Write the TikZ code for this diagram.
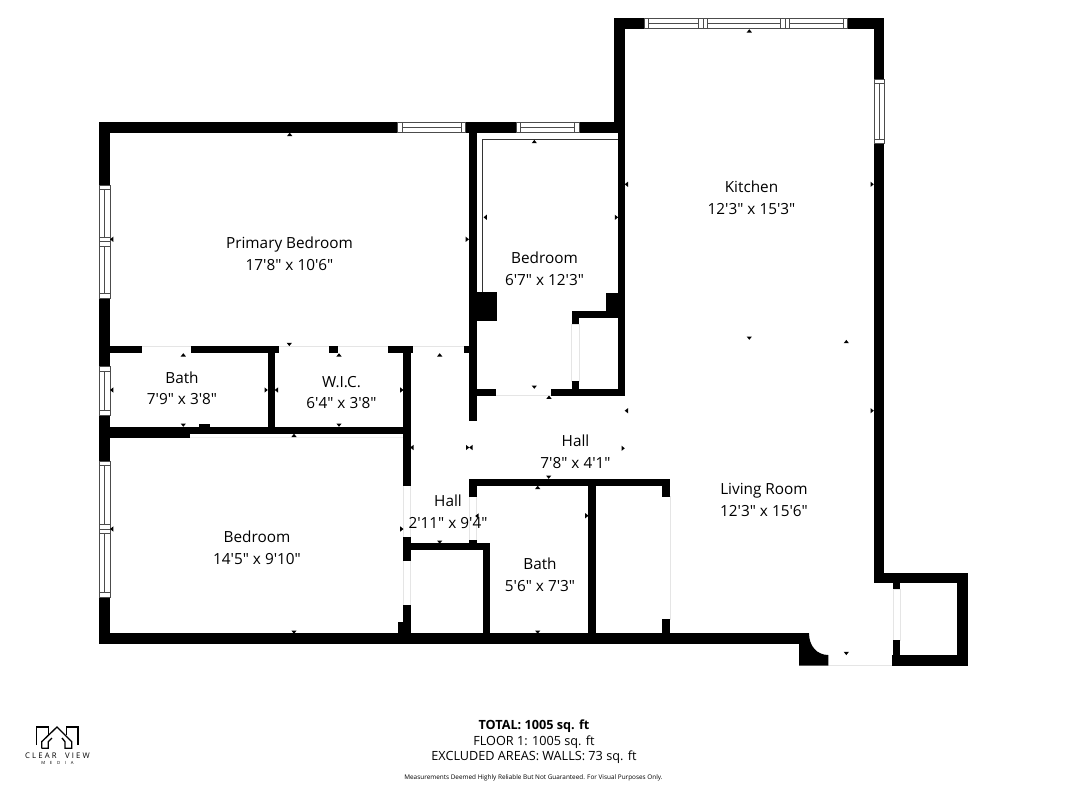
\documentclass[tikz,border=0pt]{standalone}
\usepackage{fontspec}
\newfontfamily\osf{Open Sans}
\newcommand{\wl}[4]{\fill[black] (#1,#2) rectangle (#3,#4);}
\newcommand{\dr}[4]{\draw[doorline,fill=white] (#1,#2) rectangle (#3,#4);}
\newcommand{\hwin}[4]{%
  \draw[winline,fill=white] (#1,#3) rectangle (#2,#4);
  \draw[winline] (#1+4.5,#3) -- (#1+4.5,#4);
  \draw[winline] (#2-4.5,#3) -- (#2-4.5,#4);
  \draw[winline] (#1+4.5,#3/2+#4/2) -- (#2-4.5,#3/2+#4/2);}
\newcommand{\vwin}[4]{%
  \draw[winline,fill=white] (#1,#3) rectangle (#2,#4);
  \draw[winline] (#1,#3+4.5) -- (#2,#3+4.5);
  \draw[winline] (#1,#4-4.5) -- (#2,#4-4.5);
  \draw[winline] (#1/2+#2/2,#3+4.5) -- (#1/2+#2/2,#4-4.5);}
\newcommand{\mU}[2]{\fill (#1-2.6,#2+1.5) -- (#1+2.6,#2+1.5) -- (#1,#2-1.8) -- cycle;}
\newcommand{\mD}[2]{\fill (#1-2.6,#2-1.5) -- (#1+2.6,#2-1.5) -- (#1,#2+1.8) -- cycle;}
\newcommand{\mL}[2]{\fill (#1+1.5,#2-2.6) -- (#1+1.5,#2+2.6) -- (#1-1.8,#2) -- cycle;}
\newcommand{\mR}[2]{\fill (#1-1.5,#2-2.6) -- (#1-1.5,#2+2.6) -- (#1+1.8,#2) -- cycle;}
\tikzset{
  doorline/.style={draw=black!10,line width=0.5pt},
  winline/.style={draw=black!70,line width=0.45pt},
  roomlabel/.style={align=center,font=\osf\fontsize{11.5}{15.9}\selectfont,inner sep=0pt},
  logoline/.style={draw=black,line width=1pt,line join=miter}
}
\begin{document}
\begin{tikzpicture}[x=0.75pt,y=-0.75pt]
\useasboundingbox (0,0) rectangle (1067,800);
% door / opening hairlines
\draw[doorline] (110,346.3) -- (464,346.3);
\draw[doorline,draw=black!6] (190,437.5) -- (403,437.5);
\draw[doorline] (496,395.7) -- (551,395.7);
\draw[doorline] (828,665.5) -- (892,665.5);
\draw[doorline] (670,496) -- (670,620);
\dr{403.3}{485.7}{410.7}{537.3}
\dr{403.3}{560.7}{410.7}{605}
\dr{469.3}{496.7}{476.7}{540}
\dr{571.7}{324.3}{579}{381}
\dr{893}{589.3}{900.3}{640}
% outer and inner walls
\wl{99.3}{122.3}{110}{644.3}
\wl{99.3}{122.3}{625}{132.7}
\wl{614.3}{18.3}{625}{132.7}
\wl{614.3}{18.3}{884}{29}
\wl{873.7}{18.3}{884}{583.3}
\wl{873.7}{573.3}{967.7}{583.3}
\wl{957.3}{573.3}{967.7}{665.7}
\wl{891.7}{655}{967.7}{665.7}
\wl{893}{583}{900.3}{589.3}
\wl{893}{640}{900.3}{655}
\wl{99.3}{633.3}{809}{644.3}
\fill[black] (809,633.3) .. controls (809,646) and (817,655) .. (828.3,655) -- (828.3,665.7) -- (799,665.7) -- (799,644) -- (809,644) -- cycle;
% primary bedroom bottom wall
\wl{110}{346}{141.7}{353.3}
\wl{190.7}{346}{279}{353.3}
\wl{328.7}{346}{338.3}{353.3}
\wl{387.7}{346}{413.3}{353.3}
\wl{464}{346}{469.3}{353.3}
\wl{267.7}{346}{275}{430}
% mid wall
\wl{99.3}{426.7}{410.7}{434}
\wl{99.3}{426.7}{190}{437.7}
\wl{199}{424}{210}{427}
% hall walls
\wl{403.3}{346}{410.7}{485.7}
\wl{403.3}{537.3}{410.7}{560.7}
\wl{403.3}{605}{410.7}{640}
\wl{398.3}{621.7}{403.3}{634}
\wl{469.3}{122.3}{476.7}{420.7}
\wl{403.3}{543}{490}{550.3}
\wl{483.3}{543}{490}{640}
\wl{469.3}{479.3}{476.7}{496.7}
\wl{469.3}{540}{476.7}{543}
% small bedroom
\wl{617.7}{122.3}{625}{395.7}
\wl{476.7}{292.3}{496.7}{321}
\wl{606}{293.3}{617.7}{311.7}
\wl{571.7}{311}{617.7}{318.3}
\wl{571.7}{311}{579}{324.3}
\wl{571.7}{381}{579}{389}
\wl{476}{389}{496}{395.7}
\wl{550.7}{389}{625}{395.7}
\draw[black!80,line width=0.6pt] (482.4,292.3) -- (482.4,139.2) -- (617.7,139.2);
% bath
\wl{469.3}{479}{670}{486}
\wl{662.3}{479}{670}{496.7}
\wl{662.3}{619}{670}{634}
\wl{588.3}{486}{595.7}{634}
% windows
\hwin{397.3}{465.7}{122.6}{132.4}
\hwin{516}{579}{122.6}{132.4}
\hwin{644}{703}{18.6}{28.7}
\hwin{703}{785}{18.6}{28.7}
\hwin{785}{847.7}{18.6}{28.7}
\vwin{873.9}{883.8}{79}{143.3}
\vwin{99.6}{109.8}{185}{241.5}
\vwin{99.6}{109.8}{241.5}{298}
\vwin{99.6}{109.8}{366.7}{415}
\vwin{99.6}{109.8}{461}{529}
\vwin{99.6}{109.8}{529}{597}
% dimension marks
\mU{289.7}{134.5}\mL{111.8}{239.3}\mR{467.2}{239.3}\mD{289.3}{344.3}
\mU{183.3}{355}\mU{339}{355}\mU{439.7}{355}
\mL{111.8}{390}\mR{266}{390}\mL{276.5}{390}\mR{401.7}{390}
\mD{183.3}{425}\mD{339}{425}\mU{294}{435.5}
\mL{412}{447.5}\mR{467.5}{447.5}\mL{471}{447.5}
\mU{749.3}{31}\mL{626.5}{184.3}\mR{872}{184.3}
\mU{534.3}{141.7}\mL{485.3}{217.3}\mR{616.3}{217.3}
\mD{534.3}{387}\mU{549}{397.3}\mD{749.3}{338}\mU{846.3}{341.7}
\mL{626.5}{410.7}\mR{872}{410.7}\mR{623}{448.3}
\mL{111.8}{529}\mR{401.7}{529}\mD{294}{632}\mD{439.7}{542}\mL{477}{516}
\mD{548.7}{477}\mU{537.7}{487.5}\mR{586.7}{515.7}\mD{537.7}{632}\mD{846.3}{653.3}
% room labels
\node[roomlabel] (primary) at (289.5,253.7) {Primary Bedroom\\17'8" x 10'6"};
\node[roomlabel] (bath1) at (182,388.2) {Bath\\7'9" x 3'8"};
\node[roomlabel] (wic) at (341.5,392.7) {W.I.C.\\6'4" x 3'8"};
\node[roomlabel] (bed2) at (544.5,268.7) {Bedroom\\6'7" x 12'3"};
\node[roomlabel] (kitchen) at (751.5,197.7) {Kitchen\\12'3" x 15'3"};
\node[roomlabel] (hall1) at (575.5,451.7) {Hall\\7'8" x 4'1"};
\node[roomlabel] (living) at (764,500) {Living Room\\12'3" x 15'6"};
\node[roomlabel] (hall2) at (448,511.7) {Hall\\2'11" x 9'4"};
\node[roomlabel] (bath2) at (540,574.7) {Bath\\5'6" x 7'3"};
\node[roomlabel] (bed1) at (257,547.7) {Bedroom\\14'5" x 9'10"};
% footer
\node[font=\osf\bfseries\fontsize{9.5}{11}\selectfont,inner sep=0pt] (total) at (534,726.3) {TOTAL: 1005 sq. ft};
\node[font=\osf\fontsize{9.5}{11}\selectfont,inner sep=0pt] (floor) at (534,741.8) {FLOOR 1: 1005 sq. ft};
\node[font=\osf\fontsize{9.5}{11}\selectfont,inner sep=0pt] (excl) at (534,757.3) {EXCLUDED AREAS: WALLS: 73 sq. ft};
\node[font=\osf\fontsize{4.8}{5}\selectfont,inner sep=0pt] (note) at (533.5,778) {Measurements Deemed Highly Reliable But Not Guaranteed. For Visual Purposes Only.};
% logo
\draw[logoline] (36.7,745) -- (36.7,727) -- (48.3,727) -- (48.3,735);
\draw[logoline] (78,745) -- (78,727) -- (66.7,727) -- (66.7,735);
\draw[logoline] (41.7,748.3) -- (48.3,748.3) -- (48.3,741.7) -- (52,738);
\draw[logoline] (41.7,748.3) -- (41.7,741.7) -- (57,727) -- (71.7,741.7) -- (71.7,748.3) -- (65,748.3) -- (65,741.7) -- (62,738);
\node[font=\osf\fontsize{5.8}{6}\selectfont,inner sep=0pt] (logoa) at (57.5,755.5) {C\;L\;E\;A\;R\;\;\;\;V\;I\;E\;W};
\node[font=\osf\fontsize{3.2}{4}\selectfont,inner sep=0pt] (logob) at (57.5,763) {M\;\;\;\;E\;\;\;\;D\;\;\;\;I\;\;\;\;A};
\end{tikzpicture}
\end{document}
